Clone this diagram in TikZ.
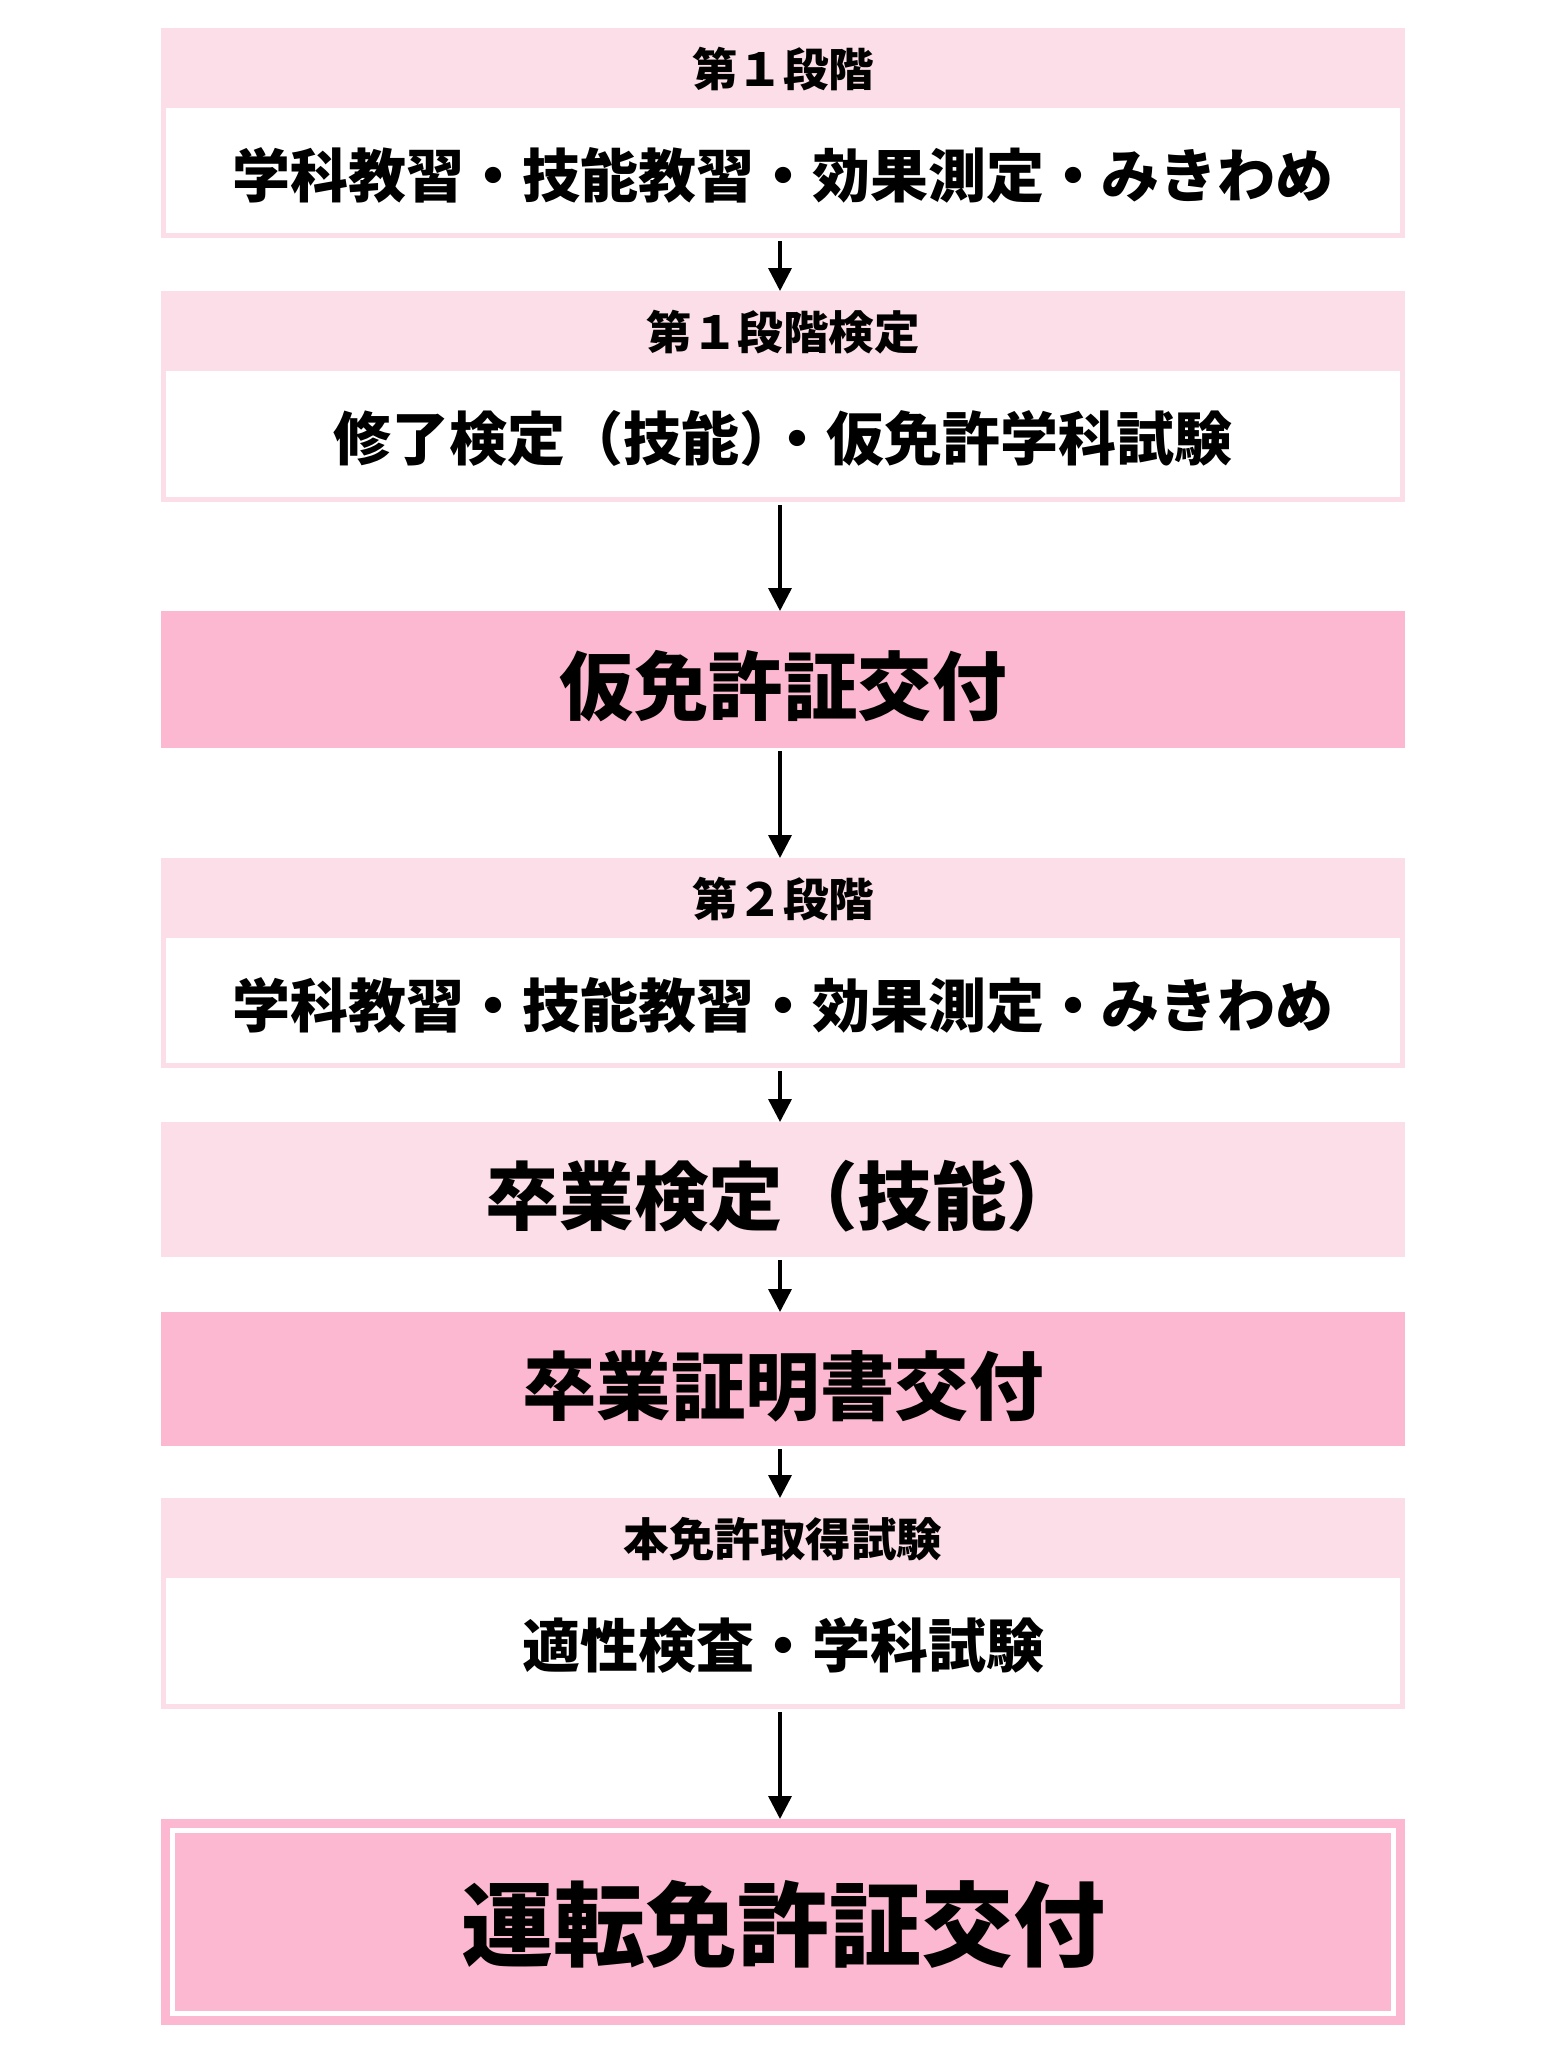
\documentclass[tikz,border=0pt]{standalone}
\usepackage{fontspec}
\newfontfamily\jp{Noto Sans CJK JP}
\usetikzlibrary{arrows.meta}
\definecolor{lpink}{RGB}{252,222,232}
\definecolor{dpink}{RGB}{252,184,208}
\tikzset{
  outerbox/.style={fill=lpink, draw=none, inner sep=0pt, outer sep=0pt, minimum width=1244pt, minimum height=210pt, anchor=north},
  whitebox/.style={fill=white, draw=none, inner sep=0pt, outer sep=0pt, minimum width=1234pt, minimum height=125pt, anchor=south},
  lightbox/.style={fill=lpink, draw=none, inner sep=0pt, outer sep=0pt, minimum width=1244pt, anchor=north},
  darkbox/.style={fill=dpink, draw=none, inner sep=0pt, outer sep=0pt, minimum width=1244pt, anchor=north},
  headtxt/.style={inner sep=0pt, font=\jp\bfseries\fontsize{45.5pt}{50pt}\selectfont},
  maintxt/.style={inner sep=0pt, font=\jp\bfseries\fontsize{58pt}{63pt}\selectfont},
  bigtxt/.style={inner sep=0pt, font=\jp\bfseries\fontsize{74.5pt}{80pt}\selectfont},
  hugetxt/.style={inner sep=0pt, font=\jp\bfseries\fontsize{92pt}{100pt}\selectfont},
  arr/.style={line width=3.5pt, -{Triangle[length=23pt,width=23pt]}, shorten <=3pt}
}
\begin{document}
\begin{tikzpicture}[x=1pt,y=-1pt]
\useasboundingbox (0,0) rectangle (1561,2057);
\fill[white] (0,0) rectangle (1561,2057);

% Box 1
\node[outerbox] (b1) at (783,28) {};
\node[whitebox] (b1w) at ([yshift=5pt]b1.south) {};
\node[headtxt] (b1h) at (783,69) {第１段階};
\node[maintxt] (b1m) at (783,175) {学科教習・技能教習・効果測定・みきわめ};

% Box 2
\node[outerbox, minimum height=211pt] (b2) at (783,291) {};
\node[whitebox, minimum height=126pt] (b2w) at ([yshift=5pt]b2.south) {};
\node[headtxt] (b2h) at (783,332) {第１段階検定};
\node[maintxt] (b2m) at (783,438) {修了検定（技能）\kern-0.5em・仮免許学科試験};

% Kari menkyo
\node[darkbox, minimum height=137pt] (b3) at (783,611) {};
\node[bigtxt] (b3t) at (783,686) {仮免許証交付};

% Box 4
\node[outerbox] (b4) at (783,858) {};
\node[whitebox] (b4w) at ([yshift=5pt]b4.south) {};
\node[headtxt] (b4h) at (783,899) {第２段階};
\node[maintxt] (b4m) at (783,1005) {学科教習・技能教習・効果測定・みきわめ};

% Sotsugyo kentei
\node[lightbox, minimum height=135pt] (b5) at (783,1122) {};
\node[bigtxt] (b5t) at (783,1196) {卒業検定（技能）};

% Sotsugyo shomeisho
\node[darkbox, minimum height=134pt] (b6) at (783,1312) {};
\node[bigtxt] (b6t) at (783,1386) {卒業証明書交付};

% Box 7
\node[outerbox, minimum height=211pt] (b7) at (783,1498) {};
\node[whitebox, minimum height=126pt] (b7w) at ([yshift=5pt]b7.south) {};
\node[headtxt] (b7h) at (783,1539) {本免許取得試験};
\node[maintxt] (b7m) at (783,1645) {適性検査・学科試験};

% Final
\node[darkbox, minimum height=206pt] (b8) at (783,1819) {};
\draw[white, line width=5.5pt] ([shift={(11.5pt,-11.5pt)}]b8.north west) rectangle ([shift={(-11.5pt,11.5pt)}]b8.south east);
\node[hugetxt] (b8t) at (783,1924) {運転免許証交付};

% Arrows
\draw[arr] ([xshift=-3pt]b1.south) -- ([xshift=-3pt]b2.north);
\draw[arr] ([xshift=-3pt]b2.south) -- ([xshift=-3pt]b3.north);
\draw[arr] ([xshift=-3pt]b3.south) -- ([xshift=-3pt]b4.north);
\draw[arr] ([xshift=-3pt]b4.south) -- ([xshift=-3pt]b5.north);
\draw[arr] ([xshift=-3pt]b5.south) -- ([xshift=-3pt]b6.north);
\draw[arr] ([xshift=-3pt]b6.south) -- ([xshift=-3pt]b7.north);
\draw[arr] ([xshift=-3pt]b7.south) -- ([xshift=-3pt]b8.north);
\end{tikzpicture}
\end{document}
